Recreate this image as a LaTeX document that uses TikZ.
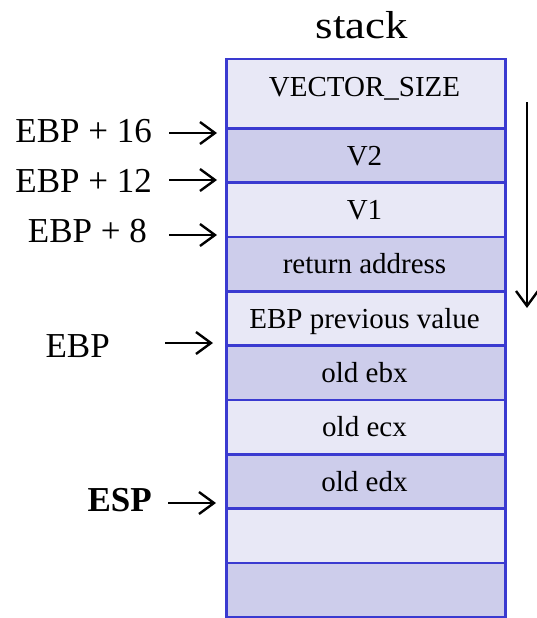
\documentclass[tikz,border=0pt]{standalone}
\usepackage{fontspec}
\setmainfont{Liberation Serif}
\usetikzlibrary{arrows.meta}
\definecolor{cellLight}{RGB}{232,232,246}
\definecolor{cellDark}{RGB}{205,205,235}
\definecolor{cellEdge}{RGB}{58,58,208}
\begin{document}
\begin{tikzpicture}[x=1pt,y=-1pt,
  cell/.style={draw=cellEdge, line width=2.5pt, rectangle, inner sep=0pt,
               minimum width=279pt, anchor=north west},
  celltext/.style={anchor=base, inner sep=0pt, font=\fontsize{29}{29}\selectfont},
  ptrlabel/.style={anchor=base east, inner sep=0pt, font=\fontsize{35}{35}\selectfont},
  ptr/.style={line width=2.4pt, -{Straight Barb[length=15pt,width=22pt,line width=2.4pt]}},
]
\useasboundingbox (0,0) rectangle (537,618);

% title
\node[anchor=base, inner sep=0pt, font=\fontsize{39}{39}\selectfont] (title)
  at (362,38) {\scalebox{1.15}[1]{stack}};

% stack cells (top edge, height, fill)
\node[cell, fill=cellLight, minimum height=69pt]   (c0) at (225,58)    {};
\node[cell, fill=cellDark,  minimum height=54.3pt] (c1) at (225,127)   {};
\node[cell, fill=cellLight, minimum height=54.3pt] (c2) at (225,181.3) {};
\node[cell, fill=cellDark,  minimum height=54.3pt] (c3) at (225,235.7) {};
\node[cell, fill=cellLight, minimum height=54.3pt] (c4) at (225,290)   {};
\node[cell, fill=cellDark,  minimum height=54.3pt] (c5) at (225,344.3) {};
\node[cell, fill=cellLight, minimum height=54.3pt] (c6) at (225,398.7) {};
\node[cell, fill=cellDark,  minimum height=54.3pt] (c7) at (225,453)   {};
\node[cell, fill=cellLight, minimum height=54.3pt] (c8) at (225,507.3) {};
\node[cell, fill=cellDark,  minimum height=54.3pt] (c9) at (225,561.7) {};

\node[celltext] (t0) at (364.5,96)    {VECTOR\_SIZE};
\node[celltext] (t1) at (364.5,165)   {V2};
\node[celltext] (t2) at (364.5,219.3) {V1};
\node[celltext] (t3) at (364.5,273.7) {return address};
\node[celltext] (t4) at (364.5,328)   {EBP previous value};
\node[celltext] (t5) at (364.5,382.3) {old ebx};
\node[celltext] (t6) at (364.5,436.7) {old ecx};
\node[celltext] (t7) at (364.5,491)   {old edx};

% pointer labels
\node[ptrlabel] (l16) at (152,142) {EBP + 16};
\node[ptrlabel] (l12) at (152,192) {EBP + 12};
\node[ptrlabel] (l8)  at (147,242) {EBP + 8};
\node[ptrlabel] (lebp) at (110,357) {EBP};
\node[ptrlabel, font=\fontsize{35}{35}\selectfont\bfseries] (lesp) at (152,511) {ESP};

% pointer arrows
\coordinate (s16) at (169,133);  \coordinate (e16) at (217,133);
\coordinate (s12) at (169,180);  \coordinate (e12) at (217,180);
\coordinate (s8)  at (169,235);  \coordinate (e8)  at (217,235);
\coordinate (sebp) at (165,343); \coordinate (eebp) at (213,343);
\coordinate (sesp) at (168,503); \coordinate (eesp) at (216,503);
\draw[ptr] (s16) -- (e16);
\draw[ptr] (s12) -- (e12);
\draw[ptr] (s8) -- (e8);
\draw[ptr] (sebp) -- (eebp);
\draw[ptr] (sesp) -- (eesp);

% growth direction
\coordinate (gtop) at (527,102);
\coordinate (gbot) at (527,308);
\draw[ptr] (gtop) -- (gbot);
\end{tikzpicture}
\end{document}
